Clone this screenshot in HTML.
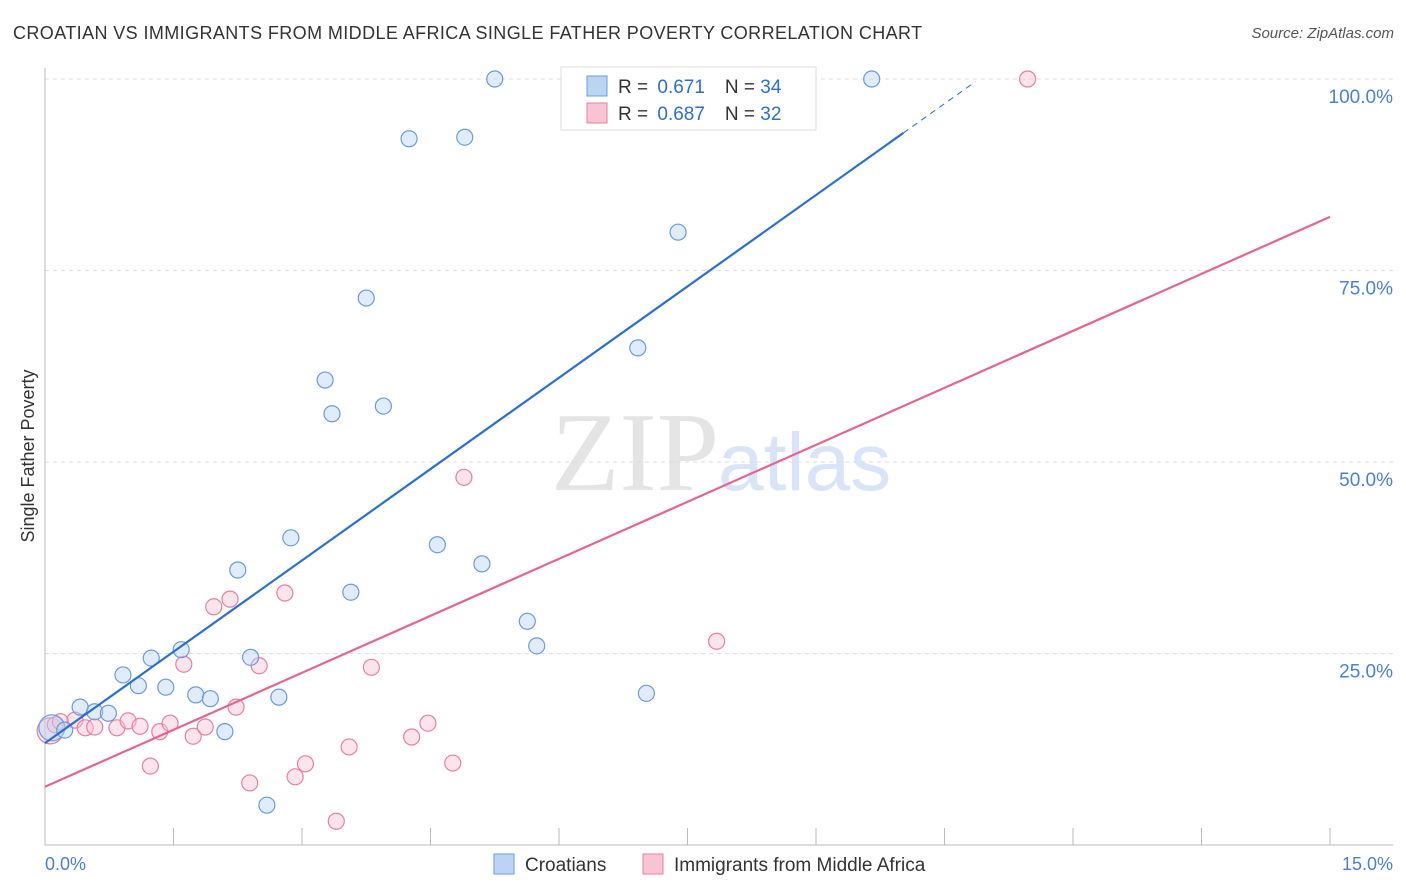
<!DOCTYPE html>
<html><head><meta charset="utf-8">
<style>
body{margin:0;background:#fff;font-family:"Liberation Sans",sans-serif;}
#wrap{position:relative;width:1406px;height:892px;overflow:hidden;}
.title{position:absolute;left:13px;top:23px;font-size:18px;color:#333;letter-spacing:0.4px;}
.source{position:absolute;right:12px;top:25px;font-size:15px;color:#555;font-style:italic;}
</style></head><body>
<div id="wrap">
<div class="title">CROATIAN VS IMMIGRANTS FROM MIDDLE AFRICA SINGLE FATHER POVERTY CORRELATION CHART</div>
<div class="source">Source: ZipAtlas.com</div>
<svg id="svg" width="1406" height="892" style="position:absolute;left:0;top:0"></svg>
</div>
<script>
const blueX=[0.08,0.23,0.41,0.58,0.74,0.91,1.09,1.24,1.41,1.59,1.76,1.93,2.10,2.25,2.40,2.59,2.73,2.87,3.27,3.35,3.57,3.75,3.95,4.25,4.58,4.90,5.10,5.25,5.63,5.74,6.92,7.02,7.39,9.65];
const blueY=[15.3,15.0,18.0,17.4,17.2,22.2,20.8,24.4,20.6,25.5,19.6,19.1,14.8,35.9,24.5,5.2,19.3,40.1,60.7,56.3,33.0,71.4,57.3,92.2,39.2,92.4,36.7,100,29.2,26.0,64.9,19.8,80.0,100];
const pinkX=[0.06,0.12,0.18,0.35,0.47,0.58,0.84,0.97,1.11,1.23,1.34,1.46,1.62,1.73,1.87,1.97,2.16,2.23,2.39,2.50,2.80,2.92,3.04,3.40,3.55,3.81,4.28,4.47,4.76,4.89,7.84,11.47];
const pinkY=[14.9,15.7,16.1,16.3,15.3,15.4,15.3,16.2,15.5,10.3,14.8,15.9,23.6,14.2,15.4,31.1,32.1,18.0,8.1,23.4,32.9,8.9,10.6,3.1,12.8,23.2,14.1,15.9,10.7,48.0,26.6,100];
const yTicks=[25,50,75,100];
const yTickLabels=["25.0%","50.0%","75.0%","100.0%"];
const xTicks=[0,1.5,3,4.5,6,7.5,9,10.5,12,13.5,15];
const blueLine=[13.3,7.95];
const pinkLine=[7.6,4.96];

const X0=45,X1=1330,Y0=845,Y100=79;
const sx=v=>X0+(X1-X0)*v/15;
const sy=v=>Y0-(Y0-Y100)*v/100;
const svg=document.getElementById('svg');
const NS='http://www.w3.org/2000/svg';
function mk(tag,attrs,parent){const e=document.createElementNS(NS,tag);for(const k in attrs)e.setAttribute(k,attrs[k]);(parent||svg).appendChild(e);return e;}

// watermark
let wm=mk('text',{x:635,y:490,'font-size':112,'font-family':'Liberation Serif,serif',fill:'#e4e4e4','text-anchor':'middle'});


wm.textContent='ZIP';
let wm2=mk('text',{x:718,y:490,'font-size':82,'font-family':'Liberation Sans,sans-serif',fill:'#d9e5f6'});


wm2.textContent='atlas';

// grid
yTicks.forEach((t,i)=>{
 let g=mk('line',{x1:X0,x2:1393,y1:sy(t),y2:sy(t),stroke:'#ddd','stroke-dasharray':'4,4'});
 
 
 let l=mk('text',{x:1393,y:sy(t)+24,'font-size':19,fill:'#4a7fd6','text-anchor':'end'});
 
 
 l.textContent=yTickLabels[i];
});
let ya=mk('line',{x1:X0,x2:X0,y1:68,y2:Y0,stroke:'#bbb'});


let xa=mk('line',{x1:X0,x2:1393,y1:Y0,y2:Y0,stroke:'#bbb'});


xTicks.forEach(t=>{
 let tk=mk('line',{x1:sx(t),x2:sx(t),y1:828,y2:Y0,stroke:'#bbb'});
 
 
});
let xl0=mk('text',{x:45,y:870,'font-size':18,fill:'#4a7fd6'});


xl0.textContent='0.0%';
let xl1=mk('text',{x:1393,y:870,'font-size':18,fill:'#4a7fd6','text-anchor':'end'});


xl1.textContent='15.0%';
let yt=mk('text',{x:34,y:456,'font-size':18,fill:'#333','text-anchor':'middle',transform:'rotate(-90 34 456)'});


yt.textContent='Single Father Poverty';

// points
function pts(xs,ys,fill,stroke,name){
 xs.forEach((x,i)=>{
  const r=(i===0)?13:8;
  let c=mk('circle',{cx:sx(x),cy:sy(ys[i]),r:r,fill:fill,'fill-opacity':0.45,stroke:stroke,'stroke-width':1.2});
  
  
 });
}
pts(pinkX,pinkY,'#f8c4d4','#e8809f','pink-point');
pts(blueX,blueY,'#bcd4f4','#6a9be0','blue-point');

// regression lines
let bl=mk('line',{x1:sx(0),y1:sy(blueLine[0]),x2:sx(10.02),y2:sy(blueLine[0]+blueLine[1]*10.02),stroke:'#2a6fd4','stroke-width':2.2});


let bd=mk('line',{x1:sx(10.02),y1:sy(blueLine[0]+blueLine[1]*10.02),x2:sx(10.86),y2:sy(blueLine[0]+blueLine[1]*10.86),stroke:'#2a6fd4','stroke-width':1,'stroke-dasharray':'6,5'});


let pl=mk('line',{x1:sx(0),y1:sy(pinkLine[0]),x2:sx(15),y2:sy(pinkLine[0]+pinkLine[1]*15),stroke:'#e46592','stroke-width':2.2});



// top legend
let lb=mk('rect',{x:561,y:67,width:255,height:63,fill:'#fff',stroke:'#ddd'});


[['#bcd4f4','#6a9be0','0.671','34',86],['#f8c4d4','#e8809f','0.687','32',113]].forEach(r=>{
 let s=mk('rect',{x:587,y:r[4]-10,width:20,height:20,fill:r[0],stroke:r[1]});
 
 
 let t=mk('text',{x:618,y:r[4]+7,'font-size':19,fill:'#333'});
 
 
 t.innerHTML='R = <tspan fill="#2a6fd4" dx="4">'+r[2]+'</tspan><tspan dx="20">N = </tspan><tspan fill="#2a6fd4">'+r[3]+'</tspan>';
});

// bottom legend
[[494,'#bcd4f4','#6a9be0','Croatians'],[643,'#f8c4d4','#e8809f','Immigrants from Middle Africa']].forEach(r=>{
 let s=mk('rect',{x:r[0],y:854,width:20,height:20,fill:r[1],stroke:r[2]});
 
 
 let t=mk('text',{x:r[0]+31,y:871,'font-size':19,fill:'#333'});
 
 
 t.textContent=r[3];
});
</script>
</body></html>
